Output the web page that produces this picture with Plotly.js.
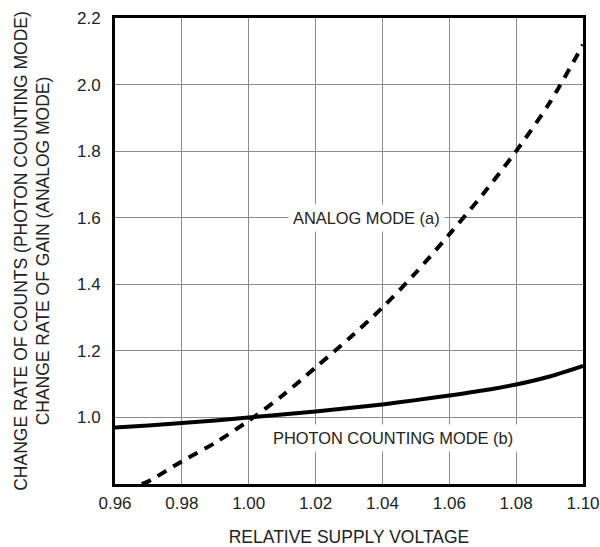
<!DOCTYPE html>
<html>
<head>
<meta charset="utf-8">
<script src="https://cdn.plot.ly/plotly-3.0.1.min.js"></script>
<style>
html,body{margin:0;padding:0;background:#fff;}
#chart{width:600px;height:547px;}
</style>
</head>
<body>
<div id="chart"></div>
<script>
// Relative supply voltage (x)
var analogVoltage = [0.968, 0.97, 0.98, 0.99, 1.00, 1.01, 1.02, 1.03, 1.04, 1.05, 1.06, 1.07, 1.08, 1.09, 1.10];
var analogGain    = [0.800, 0.808, 0.868, 0.924, 0.990, 1.065, 1.150, 1.237, 1.330, 1.435, 1.550, 1.670, 1.800, 1.945, 2.120];

var photonVoltage = [0.96, 0.97, 0.98, 0.99, 1.00, 1.01, 1.02, 1.03, 1.04, 1.05, 1.06, 1.07, 1.08, 1.09, 1.10];
var photonCounts  = [0.970, 0.976, 0.983, 0.991, 1.000, 1.009, 1.018, 1.028, 1.039, 1.052, 1.066, 1.081, 1.099, 1.123, 1.155];

var xTickVals = [0.96, 0.98, 1.00, 1.02, 1.04, 1.06, 1.08, 1.10];
var xTickText = ["0.96", "0.98", "1.00", "1.02", "1.04", "1.06", "1.08", "1.10"];
var yTickVals = [1.0, 1.2, 1.4, 1.6, 1.8, 2.0, 2.2];
var yTickText = ["1.0", "1.2", "1.4", "1.6", "1.8", "2.0", "2.2"];

var labelAnalog = "ANALOG MODE (a)";
var labelPhoton = "PHOTON COUNTING MODE (b)";

var FONT = "Liberation Sans, Arial, Helvetica, sans-serif";
var TXT = "#222";

var traces = [
  {
    x: analogVoltage, y: analogGain, type: "scatter", mode: "lines",
    name: labelAnalog,
    line: {color: "#000", width: 4, dash: "10px,8px", shape: "spline", smoothing: 0.8},
    hoverinfo: "x+y"
  },
  {
    x: photonVoltage, y: photonCounts, type: "scatter", mode: "lines",
    name: labelPhoton,
    line: {color: "#000", width: 4, shape: "spline", smoothing: 0.8},
    hoverinfo: "x+y"
  }
];

var layout = {
  width: 600, height: 547,
  margin: {l: 115, r: 17, t: 18, b: 63, pad: 0},
  paper_bgcolor: "#fff", plot_bgcolor: "#fff",
  showlegend: false,
  font: {family: FONT, color: TXT, size: 17},
  xaxis: {
    range: [0.96, 1.10],
    tickvals: xTickVals, ticktext: xTickText,
    showgrid: true, gridcolor: "#8a8a8a", gridwidth: 1,
    zeroline: false,
    showline: true, linecolor: "#000", linewidth: 3, mirror: true,
    ticks: "outside", ticklen: 2, tickcolor: "rgba(0,0,0,0)",
    tickfont: {family: FONT, size: 17, color: TXT},
    title: {text: "RELATIVE SUPPLY VOLTAGE", font: {family: FONT, size: 17.5, color: TXT}, standoff: 20},
    automargin: false, fixedrange: true
  },
  yaxis: {
    range: [0.8, 2.2],
    tickvals: yTickVals, ticktext: yTickText,
    showgrid: true, gridcolor: "#8a8a8a", gridwidth: 1,
    zeroline: false,
    showline: true, linecolor: "#000", linewidth: 3, mirror: true,
    ticks: "outside", ticklen: 8, tickcolor: "rgba(0,0,0,0)",
    tickfont: {family: FONT, size: 17, color: TXT},
    title: {text: "CHANGE RATE OF COUNTS (PHOTON COUNTING MODE)<br>CHANGE RATE OF GAIN (ANALOG MODE)", font: {family: FONT, size: 17.5, color: TXT}, standoff: 23},
    automargin: false, fixedrange: true
  },
  annotations: [
    {
      x: 1.0352, y: 1.6, xref: "x", yref: "y", text: labelAnalog, showarrow: false,
      xanchor: "center", yanchor: "middle",
      font: {family: FONT, size: 16.4, color: TXT}, bgcolor: "#fff", borderpad: 4
    },
    {
      x: 1.0432, y: 0.937, xref: "x", yref: "y", text: labelPhoton, showarrow: false,
      xanchor: "center", yanchor: "middle",
      font: {family: FONT, size: 16.4, color: TXT}, bgcolor: "#fff", borderpad: 4
    }
  ]
};

Plotly.newPlot("chart", traces, layout, {displayModeBar: false, staticPlot: true});
</script>
</body>
</html>
